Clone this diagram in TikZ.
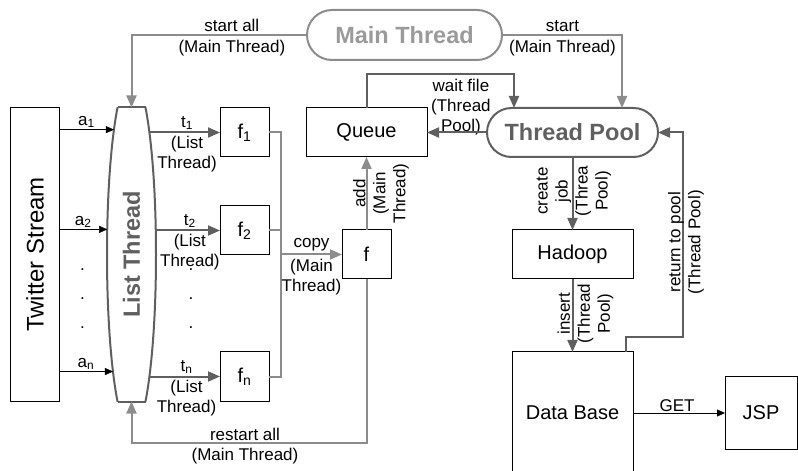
\documentclass[tikz,border=0pt]{standalone}
\usepackage{fontspec}
\setmainfont{Liberation Sans}
\usetikzlibrary{arrows.meta,shapes.geometric}

\definecolor{mtgray}{HTML}{8C8C8C}
\definecolor{mttext}{HTML}{9A9A9A}
\definecolor{tpgray}{HTML}{5F5F5F}

\tikzset{
  box/.style={draw=black, line width=1bp, inner sep=0pt, outer sep=0pt,
    font=\fontsize{20bp}{24bp}\selectfont},
  pill/.style={line width=2bp, inner sep=0pt, outer sep=0pt,
    font=\bfseries\fontsize{23.5bp}{28bp}\selectfont},
  lbl/.style={inner sep=0pt, align=center, font=\fontsize{17bp}{20bp}\selectfont},
  mtline/.style={draw=mtgray, line width=2bp},
  tpline/.style={draw=tpgray, line width=2bp},
  bigtip/.style={-{Triangle[length=12bp,width=10bp]}},
  smalltip/.style={-{Triangle[length=8bp,width=7bp]}},
}

\begin{document}
\begin{tikzpicture}[x=1bp, y=1bp, line join=miter]
  \useasboundingbox (0,0) rectangle (798,-471);
  % nodes
  \node[box, minimum width=48bp, minimum height=293bp] (tw) at (35,-254.5)
    {\rotatebox{90}{\fontsize{24bp}{28bp}\selectfont Twitter Stream}};
  \node[ellipse, minimum width=49bp, minimum height=358bp, inner sep=0pt, outer sep=0pt] (lt) at (131.5,-254.5)
    {\rotatebox{90}{\color{tpgray}\bfseries\fontsize{23.5bp}{28bp}\selectfont List Thread}};
  \coordinate (lttop) at ([yshift=-32bp]lt.north);
  \coordinate (ltbot) at ([yshift=32bp]lt.south);
  \node[pill, draw=mtgray, text=mttext, rounded corners=25bp, minimum width=195bp, minimum height=50bp] (mt) at (404.5,-35) {Main Thread};
  \node[pill, draw=tpgray, text=tpgray, rounded corners=24.5bp, minimum width=171bp, minimum height=49bp] (tp) at (572.5,-132.5) {Thread Pool};
  \node[box, minimum width=49bp, minimum height=49bp] (f1) at (244.5,-132.5) {f\textsubscript{1}};
  \node[box, minimum width=49bp, minimum height=49bp] (f2) at (244.5,-230.5) {f\textsubscript{2}};
  \node[box, minimum width=49bp, minimum height=49bp] (fn) at (244.5,-376.5) {f\textsubscript{n}};
  \node[box, minimum width=49bp, minimum height=49bp] (f) at (366.5,-254.5) {f};
  \node[box, minimum width=121bp, minimum height=49bp] (queue) at (366.5,-132.5) {Queue};
  \node[box, minimum width=121bp, minimum height=49bp] (hadoop) at (572.5,-254.5) {Hadoop};
  \node[box, minimum width=121bp, minimum height=122bp] (db) at (572.5,-413) {Data Base};
  \node[box, minimum width=72bp, minimum height=72bp] (jsp) at (761,-413) {JSP};
  \coordinate (cp) at (281,-254.5);

  % list thread outline
  \begin{scope}
    \clip (100,-107.5) rectangle (170,-401.5);
    \draw[tpgray, line width=2bp] (lt.center) ellipse [x radius=24.5, y radius=179];
  \end{scope}
  \draw[tpgray, line width=2bp] ([xshift=-14bp]lttop) -- ([xshift=14bp]lttop);
  \draw[tpgray, line width=2bp] ([xshift=-14bp]ltbot) -- ([xshift=14bp]ltbot);

  % dots
  \foreach \y [count=\i] in {270,299,328} {
    \node[lbl] (adot\i) at (82.5,-\y) {.};
    \node[lbl] (tdot\i) at (191,-\y) {.};
  }

  % stream to list thread
  \draw[smalltip] (tw.east |- lt.98.35) -- (lt.98.35) node[lbl, midway, above=1.5bp] (la1) {a\textsubscript{1}};
  \draw[smalltip] (tw.east |- lt.134.8) -- (lt.134.8) node[lbl, midway, above=1.5bp] (la2) {a\textsubscript{2}};
  \draw[smalltip] (tw.east |- lt.261.65) -- (lt.261.65) node[lbl, midway, above=1.5bp] (lan) {a\textsubscript{n}};

  % list thread to files
  \draw[tpline, bigtip] (f1.west -| lt.81.65) -- (f1.west)
    node[lbl, midway, xshift=2bp, above=1.5bp] (lt1) {t\textsubscript{1}}
    node[lbl, midway, xshift=2bp, below=3bp] (lt1b) {(List\\Thread)};
  \draw[tpline, bigtip] (f2.west -| lt.45.2) -- (f2.west)
    node[lbl, midway, xshift=2bp, above=1.5bp] (lt2) {t\textsubscript{2}}
    node[lbl, midway, xshift=2bp, below=3bp] (lt2b) {(List\\Thread)};
  \draw[tpline, bigtip] (fn.west -| lt.278.35) -- (fn.west)
    node[lbl, midway, xshift=2bp, above=1.5bp] (ltn) {t\textsubscript{n}}
    node[lbl, midway, xshift=2bp, below=3bp] (ltnb) {(List\\Thread)};

  % files to f
  \draw[mtline] (f1.east) -| (cp) |- (fn.east);
  \draw[mtline] (f2.east) -- (f2.east -| cp);
  \draw[mtline, bigtip] (cp) -- (f.west)
    node[lbl, midway, above=2bp] (lcopy) {copy}
    node[lbl, midway, below=4bp] (lcopyb) {(Main\\Thread)};
  \draw[mtline, bigtip] (f.north) -- (queue.south)
    node[lbl, midway, xshift=14.5bp, rotate=90] (ladd) {add\\(Main\\Thread)};
  \draw[mtline, bigtip] (f.south) -- ++(0,-164) -| (ltbot)
    node[lbl, pos=0.2585, above=1.5bp] (lrs) {restart all}
    node[lbl, pos=0.2585, below=4bp] (lrsb) {(Main Thread)};

  % main thread
  \draw[mtline, bigtip] (mt.west) -| (lttop)
    node[lbl, pos=0.214, above=2.5bp] (lsa) {start all}
    node[lbl, pos=0.214, below=4.5bp] (lsab) {(Main Thread)};
  \draw[mtline, bigtip] (mt.east) -| ([xshift=49.5bp]tp.north)
    node[lbl, pos=0.252, above=2.5bp] (lst) {start}
    node[lbl, pos=0.252, below=4.5bp] (lstb) {(Main Thread)};

  % thread pool
  \draw[tpline, bigtip] (queue.north) -- ++(0,34) -| ([xshift=-58.5bp]tp.north)
    node[lbl, pos=0.32, below=4bp] (lwf) {wait file\\(Thread\\Pool)};
  \draw[tpline, bigtip] (tp.west) -- (queue.east);
  \draw[tpline, bigtip] (tp.south) -- (hadoop.north)
    node[lbl, midway, xshift=1.5bp, yshift=2.5bp, rotate=90] (lcj) {create\\job\\(Threa\\Pool)};
  \draw[tpline, bigtip] (hadoop.south) -- (db.north)
    node[lbl, midway, xshift=13bp, yshift=2bp, rotate=90] (lins) {insert\\(Thread\\Pool)};
  \draw[tpline, bigtip] ([xshift=-7bp]db.north east) -- ++(0,15) -| ([xshift=25bp]tp.east)
    node[lbl, pos=0.732, xshift=3bp, rotate=90] (lret) {return to pool\\(Thread Pool)} -- (tp.east);

  % web
  \draw[smalltip] (db.east) -- (jsp.west) node[lbl, midway, xshift=-2bp, above=1bp] (lget) {GET};
\end{tikzpicture}
\end{document}
